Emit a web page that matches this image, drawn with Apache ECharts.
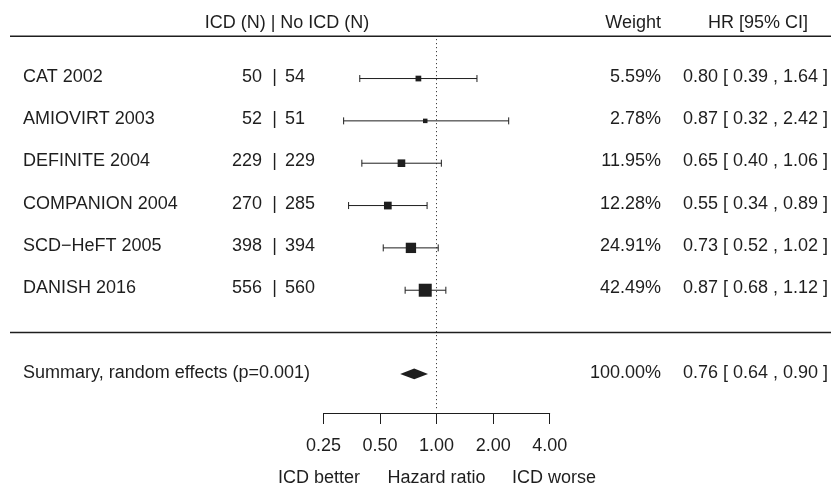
<!DOCTYPE html>
<html>
<head>
<meta charset="utf-8">
<script src="https://cdn.jsdelivr.net/npm/echarts@6/dist/echarts.min.js"></script>
<style>html,body{margin:0;padding:0;background:#fff;}#c{width:831px;height:485px;}</style>
</head>
<body>
<div id="c"></div>
<script>
const studies = ['CAT 2002', 'AMIOVIRT 2003', 'DEFINITE 2004', 'COMPANION 2004', 'SCD\u2212HeFT 2005', 'DANISH 2016'];
const nIcd = [50, 52, 229, 270, 398, 556];
const nNoIcd = [54, 51, 229, 285, 394, 560];
const weights = [5.59, 2.78, 11.95, 12.28, 24.91, 42.49];
const hr = [0.80, 0.87, 0.65, 0.55, 0.73, 0.87];
const ciLow = [0.39, 0.32, 0.40, 0.34, 0.52, 0.68];
const ciHigh = [1.64, 2.42, 1.06, 0.89, 1.02, 1.12];
const summaryLabel = 'Summary, random effects (p=0.001)';
const summaryWeight = 100.00;
const summaryHr = 0.76;
const summaryLow = 0.64;
const summaryHigh = 0.90;
const xTicks = [0.25, 0.5, 1, 2, 4];
const headers = ['ICD (N) | No ICD (N)', 'Weight', 'HR [95% CI]'];
const footer = ['ICD better', 'Hazard ratio', 'ICD worse'];

const FONT = 'Liberation Sans, Arial, Helvetica, sans-serif';
const FS = 18;
const INK = '#1e1e1e';
const f2 = v => v.toFixed(2);
const hrText = (h, l, u) => f2(h) + ' [ ' + f2(l) + ' , ' + f2(u) + ' ]';

function txt(text, x, y, align) {
  return { type: 'text', style: { text: text, x: x, y: y, align: align, verticalAlign: 'middle',
    textAlign: align, textVerticalAlign: 'middle', fontSize: FS, fontFamily: FONT, fill: INK } };
}
function seg(x1, y1, x2, y2, w) {
  return { type: 'line', shape: { x1: x1, y1: y1, x2: x2, y2: y2 }, style: { stroke: INK, lineWidth: w || 1 } };
}

const studyData = studies.map((s, i) => [hr[i], ciLow[i], ciHigh[i], i + 1]);
const summaryRow = 8;

const chart = echarts.init(document.getElementById('c'), null, { renderer: 'canvas' });
chart.setOption({
  animation: false,
  backgroundColor: '#fff',
  grid: { left: 323.5, right: 281.3, top: 36.2, bottom: 72, containLabel: false },
  xAxis: {
    type: 'log', logBase: 2, min: xTicks[0], max: xTicks[xTicks.length - 1], splitNumber: 4,
    position: 'bottom',
    axisLine: { show: true, onZero: false, lineStyle: { color: INK, width: 1 } },
    axisTick: { show: true, length: 11, lineStyle: { color: INK, width: 1 } },
    axisLabel: { margin: 24, fontSize: FS, fontFamily: FONT, color: INK, formatter: v => f2(v) },
    splitLine: { show: false }
  },
  yAxis: { type: 'value', inverse: true, min: 0, max: 8.9, show: false },
  graphic: [
    txt(headers[0], 287, 23.5, 'center'),
    txt(headers[1], 661, 23.5, 'right'),
    txt(headers[2], 758, 23.5, 'center'),
    txt(footer[0], 360, 478, 'right'),
    txt(footer[1], 436.5, 478, 'center'),
    txt(footer[2], 512, 478, 'left')
  ],
  series: [
    {
      type: 'custom', clip: false, silent: true,
      data: [[1, 0], [1, 7]],
      renderItem: function (params, api) {
        const p = api.coord([api.value(0), api.value(1)]);
        return seg(10, p[1], 831, p[1], 1.5);
      },
      markLine: {
        silent: true, symbol: 'none', label: { show: false },
        lineStyle: { color: INK, width: 1, type: [1, 3] },
        data: [[{ coord: [1, 0.07] }, { coord: [1, 8.8] }]]
      }
    },
    {
      type: 'custom', clip: false, silent: true,
      data: studyData,
      renderItem: function (params, api) {
        const i = params.dataIndex;
        const row = api.value(3);
        const c = api.coord([api.value(0), row]);
        const l = api.coord([api.value(1), row]);
        const h = api.coord([api.value(2), row]);
        const s = 1.58 + 1.752 * Math.sqrt(weights[i]);
        const ty = c[1] - 2;
        return {
          type: 'group',
          children: [
            seg(l[0], c[1], h[0], c[1], 1),
            seg(l[0], c[1] - 3.5, l[0], c[1] + 3.5, 1),
            seg(h[0], c[1] - 3.5, h[0], c[1] + 3.5, 1),
            { type: 'rect', shape: { x: c[0] - s / 2, y: c[1] - s / 2, width: s, height: s }, style: { fill: INK } },
            txt(studies[i], 23, ty, 'left'),
            txt(String(nIcd[i]), 262, ty, 'right'),
            txt('|', 274.5, ty, 'center'),
            txt(String(nNoIcd[i]), 285, ty, 'left'),
            txt(f2(weights[i]) + '%', 661, ty, 'right'),
            txt(hrText(hr[i], ciLow[i], ciHigh[i]), 828, ty, 'right')
          ]
        };
      }
    },
    {
      type: 'custom', clip: false, silent: true,
      data: [[summaryHr, summaryLow, summaryHigh, summaryRow]],
      renderItem: function (params, api) {
        const row = api.value(3);
        const c = api.coord([api.value(0), row]);
        const l = api.coord([api.value(1), row]);
        const h = api.coord([api.value(2), row]);
        const y = c[1] - 1;
        const ty = c[1] - 2;
        return {
          type: 'group',
          children: [
            { type: 'polygon', shape: { points: [[l[0], y], [c[0], y - 5.3], [h[0], y], [c[0], y + 5.3]] }, style: { fill: INK } },
            txt(summaryLabel, 23, ty, 'left'),
            txt(f2(summaryWeight) + '%', 661, ty, 'right'),
            txt(hrText(summaryHr, summaryLow, summaryHigh), 828, ty, 'right')
          ]
        };
      }
    }
  ]
});
</script>
</body>
</html>
